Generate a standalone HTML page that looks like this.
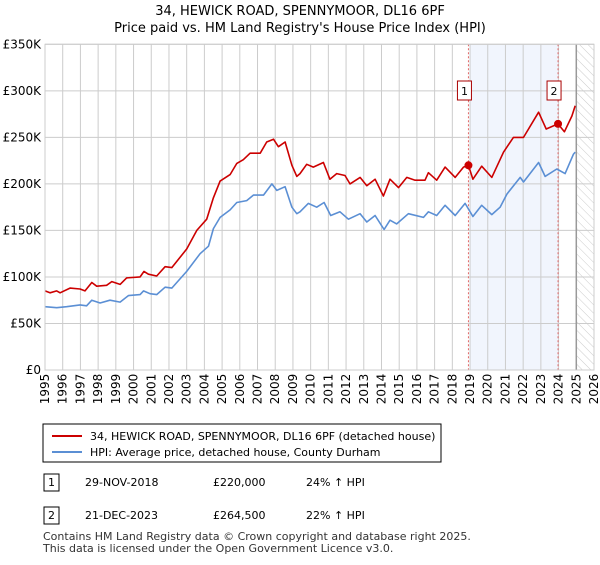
<!DOCTYPE html>
<html><head><meta charset="utf-8"><style>
body{margin:0;background:#fff;font-family:"Liberation Sans","DejaVu Sans",sans-serif;}
svg text{font-family:"DejaVu Sans","Liberation Sans",sans-serif;}
</style></head><body>
<svg id="c" width="600" height="560" viewBox="0 0 600 560">
<text x="300" y="15" font-size="13" text-anchor="middle" fill="#000">34, HEWICK ROAD, SPENNYMOOR, DL16 6PF</text>
<text x="300" y="32" font-size="13" text-anchor="middle" fill="#000">Price paid vs. HM Land Registry's House Price Index (HPI)</text>
<defs><pattern id="hatch" width="6" height="6" patternUnits="userSpaceOnUse" patternTransform="rotate(-45)"><line x1="0" y1="0" x2="0" y2="6" stroke="#ccc" stroke-width="1"/></pattern></defs>
<g id="plot"></g>
<g>
<rect x="43" y="424" width="398" height="38" fill="#fff" stroke="#000" stroke-width="1"/>
<line x1="52" y1="436" x2="82" y2="436" stroke="#cc0000" stroke-width="2"/>
<text x="90" y="440" font-size="11">34, HEWICK ROAD, SPENNYMOOR, DL16 6PF (detached house)</text>
<line x1="52" y1="452" x2="82" y2="452" stroke="#5b8fd4" stroke-width="2"/>
<text x="90" y="456" font-size="11">HPI: Average price, detached house, County Durham</text>
</g>
<g font-size="11">
<rect x="44" y="474" width="15" height="17" fill="#fff" stroke="#000"/><text x="51.5" y="486" text-anchor="middle">1</text>
<text x="85" y="486">29-NOV-2018</text><text x="213" y="486">£220,000</text><text x="306" y="486">24% ↑ HPI</text>
<rect x="44" y="507" width="15" height="17" fill="#fff" stroke="#000"/><text x="51.5" y="519" text-anchor="middle">2</text>
<text x="85" y="519">21-DEC-2023</text><text x="213" y="519">£264,500</text><text x="306" y="519">22% ↑ HPI</text>
</g>
<text x="43" y="540" font-size="11" fill="#333">Contains HM Land Registry data © Crown copyright and database right 2025.</text>
<text x="43" y="552" font-size="11" fill="#333">This data is licensed under the Open Government Licence v3.0.</text>
</svg>
<script>
const yTicks=[0,50000,100000,150000,200000,250000,300000,350000];
const yTickLabels=["£0","£50K","£100K","£150K","£200K","£250K","£300K","£350K"];
const xYears=[1995,1996,1997,1998,1999,2000,2001,2002,2003,2004,2005,2006,2007,2008,2009,2010,2011,2012,2013,2014,2015,2016,2017,2018,2019,2020,2021,2022,2023,2024,2025,2026];
const hpiDates=[1995.0,1995.66,1996.22,1996.98,1997.35,1997.64,1998.11,1998.67,1999.24,1999.71,2000.37,2000.56,2000.93,2001.31,2001.78,2002.16,2003.0,2003.76,2004.23,2004.51,2004.89,2005.45,2005.83,2006.39,2006.77,2007.34,2007.81,2008.09,2008.56,2008.94,2009.22,2009.4,2009.87,2010.34,2010.76,2011.13,2011.66,2012.13,2012.79,2013.17,2013.64,2014.15,2014.48,2014.86,2015.52,2016.37,2016.65,2017.12,2017.59,2018.16,2018.72,2019.16,2019.66,2020.23,2020.7,2021.08,2021.83,2022.02,2022.87,2023.24,2023.9,2024.37,2024.84,2024.94];
const hpiValues=[68,67,68,70,69,75,72,75,73,80,81,85,82,81,89,88,106,125,133,152,164,172,180,182,188,188,200,193,197,175,168,170,179,175,180,166,170,162,168,159,166,151,161,157,168,164,170,166,177,166,179,165,177,167,175,189,207,202,223,208,216,211,232,234];
const priceDates=[1995.0,1995.28,1995.66,1995.85,1996.41,1996.98,1997.26,1997.64,1997.92,1998.48,1998.77,1999.24,1999.61,2000.37,2000.59,2000.84,2001.31,2001.78,2002.16,2003.0,2003.57,2004.13,2004.51,2004.89,2005.45,2005.83,2006.2,2006.58,2007.15,2007.52,2007.9,2008.18,2008.56,2008.94,2009.22,2009.4,2009.78,2010.15,2010.72,2011.09,2011.47,2011.94,2012.22,2012.79,2013.17,2013.64,2014.11,2014.48,2014.96,2015.43,2015.9,2016.46,2016.65,2017.12,2017.59,2018.16,2018.63,2018.91,2019.16,2019.66,2020.23,2020.89,2021.45,2022.02,2022.87,2023.3,2023.97,2024.33,2024.75,2024.94];
const priceValues=[85,83,85,83,88,87,85,94,90,91,95,92,99,100,106,103,101,111,110,130,150,162,185,203,210,222,226,233,233,245,248,240,245,220,208,211,221,218,223,205,211,209,200,207,198,205,187,205,196,207,204,204,212,204,218,207,218,220,205,219,207,234,250,250,277,259,264.5,256,273,284];
const saleDates=[2018.91,2023.97];
const saleValues=[220,264.5];
const saleLabels=["1","2"];
const X0=45,X1=594,Y0=370,Y1=44.3;
const xs=y=>X0+(y-1995)/(2026-1995)*(X1-X0);
const ys=v=>Y0-v/350000*(Y0-Y1);
const ns="http://www.w3.org/2000/svg";
const g=document.getElementById('plot');
function mk(t,a,p){const e=document.createElementNS(ns,t);for(const k in a)e.setAttribute(k,a[k]);(p||g).appendChild(e);return e;}
let e;
e=mk('rect',{x:xs(2019),y:Y1,width:xs(2024)-xs(2019),height:Y0-Y1,fill:'#eef3fc',opacity:0.8});


e=mk('rect',{x:xs(2025),y:Y1,width:X1-xs(2025),height:Y0-Y1,fill:'url(#hatch)'});


yTicks.forEach((t,i)=>{
 e=mk('line',{x1:X0,x2:X1,y1:ys(t),y2:ys(t),stroke:'#ccc','stroke-width':1});
 
 
 e=mk('text',{x:X0-4,y:ys(t)+4,'font-size':12,'text-anchor':'end',fill:'#000'});
 e.textContent=yTickLabels[i];
 
 
});
xYears.forEach(yr=>{
 e=mk('line',{x1:xs(yr),x2:xs(yr),y1:Y1,y2:Y0,stroke:'#ccc','stroke-width':1});
 
 
 e=mk('text',{x:0,y:0,'font-size':12,'text-anchor':'middle',transform:`translate(${xs(yr)+4},389) rotate(-90)`});
 e.textContent=yr;
 
 
});
e=mk('line',{x1:xs(2025),x2:xs(2025),y1:Y1,y2:Y0,stroke:'#999','stroke-width':1.5});


saleDates.forEach((d,i)=>{
 e=mk('line',{x1:xs(d),x2:xs(d),y1:Y1,y2:Y0,stroke:'#e06666','stroke-width':1,'stroke-dasharray':'2,2'});
 
 
});
function path(d,v,col,name){
 const p=d.map((t,i)=>(i?'L':'M')+xs(t).toFixed(1)+','+ys(v[i]*1000).toFixed(1)).join('');
 e=mk('path',{d:p,fill:'none',stroke:col,'stroke-width':1.6,'stroke-linejoin':'round'});
 
 
}
path(hpiDates,hpiValues,'#5b8fd4','hpi-line');
path(priceDates,priceValues,'#cc0000','price-line');
saleDates.forEach((d,i)=>{
 e=mk('circle',{cx:xs(d),cy:ys(saleValues[i]*1000),r:4,fill:'#cc0000'});
 
 
 const bx=xs(d)-20+7*0, by=81;
 e=mk('rect',{x:xs(d)-11,y:by,width:14,height:19,fill:'#fff',stroke:'#aa0000'});
 
 
 e=mk('text',{x:xs(d)-4,y:by+14,'font-size':11,'text-anchor':'middle'});
 e.textContent=saleLabels[i];
 
 
});
e=mk('rect',{x:X0,y:Y1,width:X1-X0,height:Y0-Y1,fill:'none',stroke:'#ccc'});


</script>
</body></html>
